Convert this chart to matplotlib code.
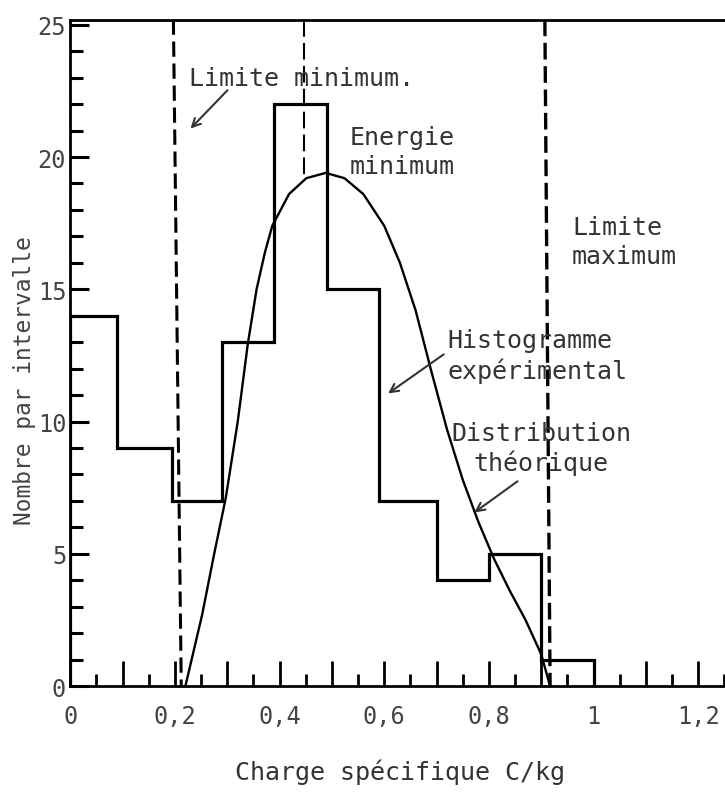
import numpy as np
import matplotlib
matplotlib.use('Agg')
import matplotlib.pyplot as plt
from matplotlib.ticker import MultipleLocator

plt.rcParams['font.family'] = ['DejaVu Sans Mono']

# histogram (bin edges and counts)
bin_edges = [0, 0.09, 0.195, 0.29, 0.39, 0.49, 0.59, 0.70, 0.80, 0.90, 1.00]
counts = [14, 9, 7, 13, 22, 15, 7, 4, 5, 1]

# theoretical distribution curve
curve_x = [0.220, 0.252, 0.275, 0.297, 0.320, 0.339, 0.356, 0.372, 0.386, 0.418,
           0.451, 0.488, 0.524, 0.560, 0.600, 0.630, 0.660, 0.690, 0.720, 0.750,
           0.780, 0.810, 0.840, 0.870, 0.900, 0.917]
curve_y = [0.0, 2.7, 5.0, 7.1, 10.0, 12.9, 15.0, 16.4, 17.4, 18.6,
           19.2, 19.4, 19.2, 18.6, 17.4, 16.0, 14.2, 11.9, 9.7, 7.8,
           6.2, 4.8, 3.6, 2.5, 1.2, 0.0]

# limits (dashed lines)
lim_min_x = [0.197, 0.212]
lim_max_x = [0.907, 0.917]
e_min_x = 0.447
e_min_y = 19.3

xtick_pos = [0, 0.1, 0.2, 0.3, 0.4, 0.5, 0.6, 0.7, 0.8, 0.9, 1.0, 1.1, 1.2]
xtick_lab = ['0', '', '0,2', '', '0,4', '', '0,6', '', '0,8', '', '1', '', '1,2']
ytick_pos = [0, 5, 10, 15, 20, 25]
ytick_lab = ['0', '5', '10', '15', '20', '25']

fig = plt.figure(figsize=(7.25, 8.04), dpi=100)
ax = fig.add_axes([0.097, 0.1455, 0.91, 0.829])

ax.stairs(counts, bin_edges, baseline=0, color='black', lw=2.3)
ax.plot(curve_x, curve_y, color='black', lw=1.7)

ax.plot(lim_min_x, [25.2, 0], color='black', lw=2.2, dashes=(5, 2.2))
ax.plot([e_min_x, e_min_x], [25.2, e_min_y], color='black', lw=1.5, dashes=(8, 3))
ax.plot(lim_max_x, [25.2, 0], color='black', lw=2.4, dashes=(5, 2))

tc = '#333333'
arr = dict(arrowstyle='->,head_length=0.6,head_width=0.3', color=tc, lw=1.5)
ax.text(0.226, 23.0, 'Limite minimum.', fontsize=18, color=tc, va='center')
ax.annotate('', xy=(0.226, 21.0), xytext=(0.304, 22.6), arrowprops=arr)

ax.text(0.534, 20.2, 'Energie\nminimum', fontsize=18, color=tc, va='center', linespacing=1.25)
ax.text(0.959, 16.8, 'Limite\nmaximum', fontsize=18, color=tc, va='center', linespacing=1.25)

ax.text(0.72, 12.5, 'Histogramme\nexpérimental', fontsize=18, color=tc, va='center', linespacing=1.25)
ax.annotate('', xy=(0.603, 11.0), xytext=(0.718, 12.6), arrowprops=arr)

ax.text(0.90, 9.0, 'Distribution\nthéorique', fontsize=18, color=tc, va='center',
        ha='center', multialignment='center', linespacing=1.2)
ax.annotate('', xy=(0.768, 6.5), xytext=(0.859, 7.8), arrowprops=arr)

ax.set_xlim(0, 1.261)
ax.set_ylim(0, 25.2)

ax.set_xticks(xtick_pos)
ax.set_xticklabels(xtick_lab)
ax.xaxis.set_minor_locator(MultipleLocator(0.05))
ax.set_yticks(ytick_pos)
ax.set_yticklabels(ytick_lab)
ax.yaxis.set_minor_locator(MultipleLocator(1))

ax.tick_params(axis='x', which='major', direction='in', length=18, width=2, pad=13,
               labelsize=17, labelcolor='#444444')
ax.tick_params(axis='x', which='minor', direction='in', length=9, width=2)
ax.tick_params(axis='y', which='major', direction='in', length=14, width=2.2, pad=3,
               labelsize=17, labelcolor='#444444')
ax.tick_params(axis='y', which='minor', direction='in', length=9, width=2.2)

for s in ['left', 'bottom', 'top']:
    ax.spines[s].set_linewidth(2)
ax.spines['right'].set_visible(False)

ax.set_xlabel('Charge spécifique C/kg', fontsize=18, color=tc, labelpad=22)
ax.set_ylabel('Nombre par intervalle', fontsize=16.5, color='#444444')
ax.yaxis.set_label_coords(-0.052, 0.46)

fig.savefig('out.png', dpi=100, facecolor='white')
